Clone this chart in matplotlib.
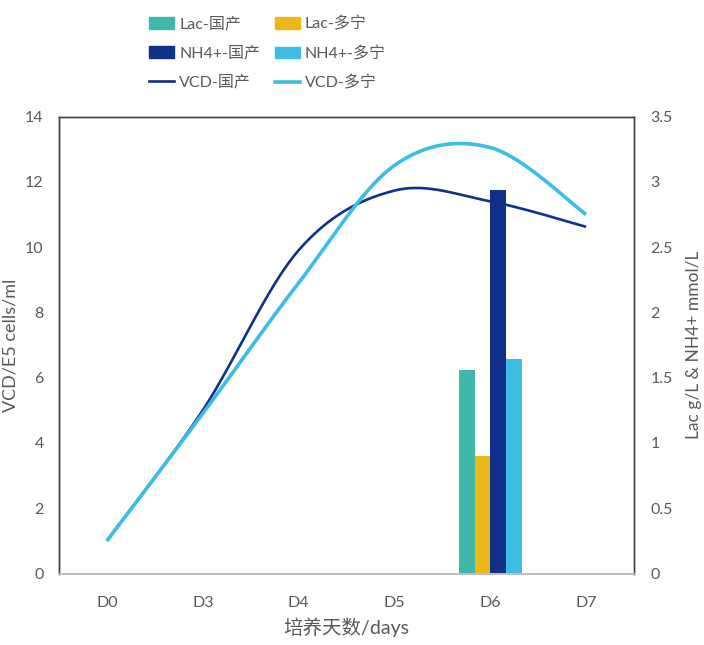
import matplotlib
matplotlib.use("Agg")
import matplotlib.pyplot as plt
import matplotlib.patches as mpatches
from matplotlib.lines import Line2D
import numpy as np

plt.rcParams['font.family'] = ['Lato', 'Noto Sans CJK SC', 'DejaVu Sans']

days = ['D0', 'D3', 'D4', 'D5', 'D6', 'D7']
vcd_gc = [1.0, 5.0, 9.9, 11.73, 11.4, 10.62]
vcd_dn = [1.0, 4.9, 8.9, 12.5, 13.05, 11.0]
lac_gc = [0, 0, 0, 0, 1.56, 0]
lac_dn = [0, 0, 0, 0, 0.90, 0]
nh4_gc = [0, 0, 0, 0, 2.94, 0]
nh4_dn = [0, 0, 0, 0, 1.64, 0]

c_teal = '#3FB8AA'
c_gold = '#EBB81A'
c_navy = '#10318A'
c_sky = '#3DBDE3'
c_text = '#595959'


def smooth(y, n=40):
    # Excel-style smoothed line (Catmull-Rom through the points)
    x = np.arange(len(y), dtype=float)
    pts = np.column_stack([x, np.asarray(y, float)])
    ext = np.vstack([pts[0], pts, pts[-1]])
    out = []
    for i in range(1, len(ext) - 2):
        p0, p1, p2, p3 = ext[i - 1], ext[i], ext[i + 1], ext[i + 2]
        c1 = p1 + (p2 - p0) / 6
        c2 = p2 - (p3 - p1) / 6
        t = np.linspace(0, 1, n)[:, None]
        seg = ((1 - t) ** 3) * p1 + 3 * ((1 - t) ** 2) * t * c1 + 3 * (1 - t) * t ** 2 * c2 + t ** 3 * p2
        out.append(seg if i == 1 else seg[1:])
    s = np.vstack(out)
    return s[:, 0], s[:, 1]


fig = plt.figure(figsize=(7.04, 6.45), dpi=100)
ax = fig.add_axes([59 / 704, 1 - 573.5 / 645, 575 / 704, 457 / 645])
ax2 = ax.twinx()

x = np.arange(len(days))
w = 0.164
ax2.bar(x - 1.5 * w, lac_gc, w, color=c_teal)
ax2.bar(x - 0.5 * w, lac_dn, w, color=c_gold)
ax2.bar(x + 0.5 * w, nh4_gc, w, color=c_navy)
ax2.bar(x + 1.5 * w, nh4_dn, w, color=c_sky)

sx, sy = smooth(vcd_gc)
ax.plot(sx, sy, color=c_navy, lw=1.9, solid_capstyle='butt')
sx, sy = smooth(vcd_dn)
ax.plot(sx, sy, color=c_sky, lw=2.6, solid_capstyle='butt')

ax.set_zorder(ax2.get_zorder() + 1)
ax.patch.set_visible(False)

ax.set_xlim(-0.5, len(days) - 0.5)
ax.set_ylim(0, 14)
ax2.set_ylim(0, 3.5)
ax.set_xticks(x)
ax.set_xticklabels(days)
ax.set_yticks(np.arange(0, 15, 2))
ax2.set_yticks(np.arange(0, 3.6, 0.5))
ax2.set_yticklabels(['0', '0.5', '1', '1.5', '2', '2.5', '3', '3.5'])

for a in (ax, ax2):
    a.tick_params(length=0, labelsize=11.5, colors=c_text)
    for sp in a.spines.values():
        sp.set_color('#404040')
        sp.set_linewidth(1.0)
    a.spines['bottom'].set_color('#BFBFBF')
    a.spines['bottom'].set_linewidth(1.3)
ax.tick_params(axis='x', pad=16)
ax.tick_params(axis='y', pad=11)
ax2.tick_params(axis='y', pad=12)

ax.set_ylabel('VCD/E5 cells/ml', fontsize=13, color=c_text, labelpad=5)
ax2.set_ylabel('Lac g/L & NH4+ mmol/L', fontsize=12.5, color=c_text, labelpad=9)
ax.set_xlabel('培养天数/days', fontsize=14, color=c_text, labelpad=6)

handles = [
    mpatches.Patch(color=c_teal, label='Lac-国产'),
    mpatches.Patch(color=c_navy, label='NH4+-国产'),
    Line2D([], [], color=c_navy, lw=1.9, label='VCD-国产'),
    mpatches.Patch(color=c_gold, label='Lac-多宁'),
    mpatches.Patch(color=c_sky, label='NH4+-多宁'),
    Line2D([], [], color=c_sky, lw=2.6, label='VCD-多宁'),
]
leg = fig.legend(handles=handles, ncol=2, loc='upper left',
                 bbox_to_anchor=(135 / 704, 1 - 2 / 645), frameon=False,
                 fontsize=11.5, handlelength=1.56, handleheight=0.75,
                 handletextpad=0.3, labelspacing=0.9, columnspacing=0.95)
for t in leg.get_texts():
    t.set_color(c_text)

fig.savefig('out.png', dpi=100)
